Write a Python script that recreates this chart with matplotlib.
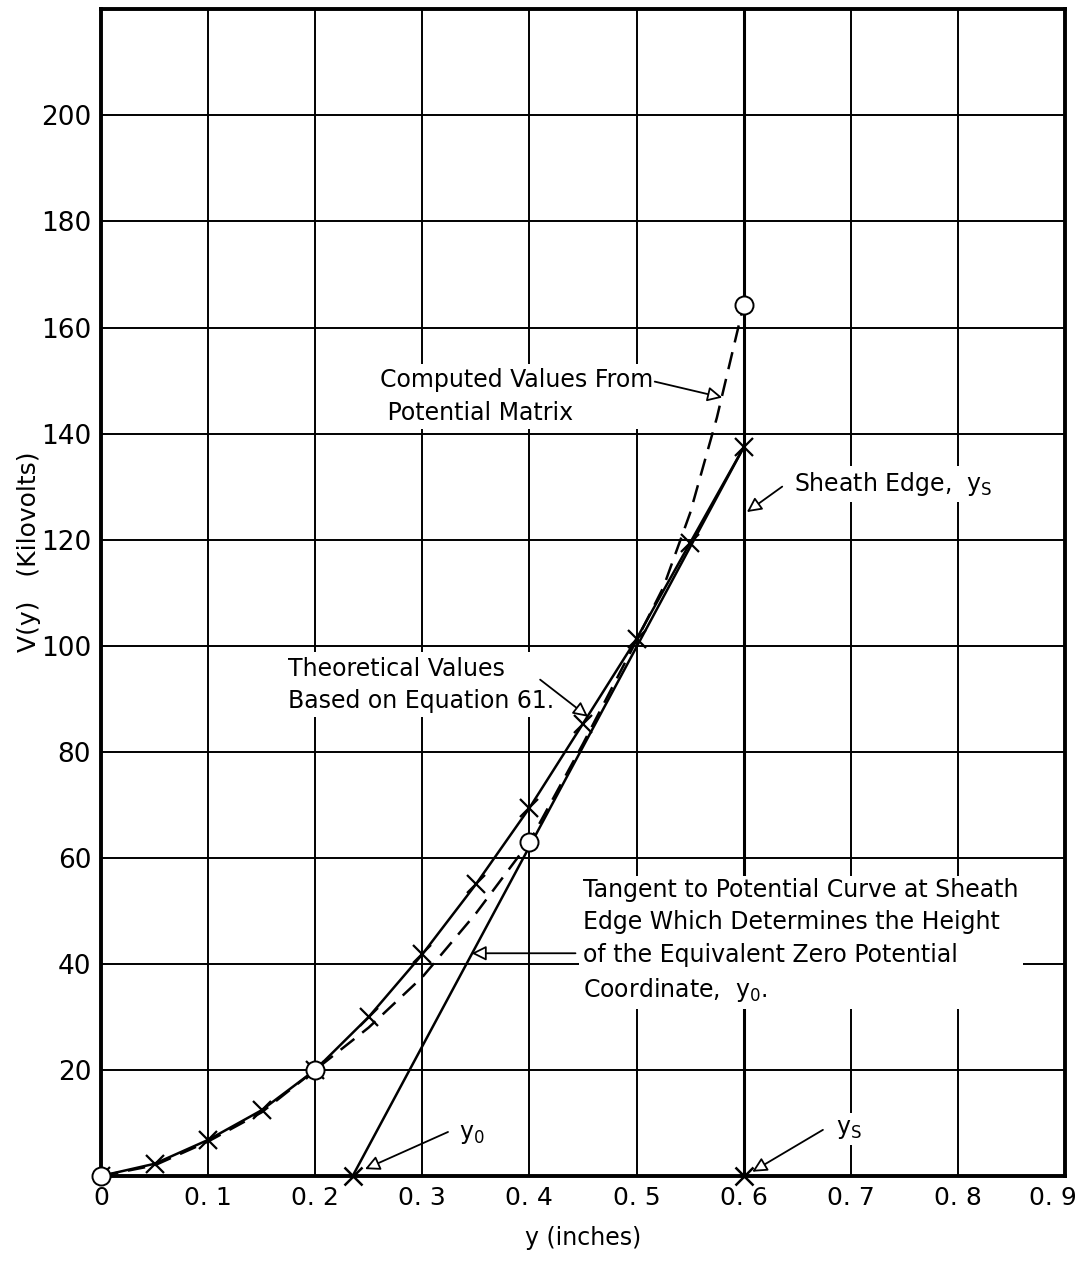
import numpy as np
import matplotlib
matplotlib.use("Agg")
import matplotlib.pyplot as plt
from matplotlib.transforms import ScaledTranslation

plt.rcParams['font.family'] = ['Liberation Sans Narrow', 'DejaVu Sans']

# ── data ─────────────────────────────────────────────────────────────────────
theo_y = [0.0, 0.05, 0.10, 0.15, 0.20, 0.25, 0.30, 0.35, 0.40, 0.45, 0.50, 0.55, 0.60]
theo_v = [0.0, 2.3, 6.8, 12.4, 20.0, 30.0, 41.8, 55.0, 69.4, 85.3, 101.3, 119.4, 137.4]

comp_y = [0.0, 0.05, 0.10, 0.15, 0.20, 0.25, 0.30, 0.35, 0.40, 0.45, 0.50, 0.525, 0.55, 0.575, 0.60]
comp_v = [0.0, 2.0, 6.5, 12.0, 20.0, 28.0, 37.5, 49.5, 63.0, 81.5, 101.0, 111.0, 125.0, 143.0, 164.3]

mark_y = [0.0, 0.2, 0.4, 0.6]          # circles on the computed curve
mark_v = [0.0, 20.0, 63.0, 164.3]

y0 = 0.235                              # equivalent zero-potential coordinate
ys = 0.60                               # sheath edge
vs = 137.4

x_ticks = [0, 0.1, 0.2, 0.3, 0.4, 0.5, 0.6, 0.7, 0.8, 0.9]
x_labels = ["0", "0. 1", "0. 2", "0. 3", "0. 4", "0. 5", "0. 6", "0. 7", "0. 8", "0. 9"]
v_ticks = [20, 40, 60, 80, 100, 120, 140, 160, 180, 200]

# ── figure ───────────────────────────────────────────────────────────────────
fig = plt.figure(figsize=(10.82, 12.63), dpi=100)
ax = fig.add_axes([0.0933, 0.0689, 0.8910, 0.9237])
ax.set_xlim(0, 0.9)
ax.set_ylim(0, 220)

ax.set_xticks(x_ticks)
ax.set_xticklabels(x_labels, fontsize=18)
ax.set_yticks(v_ticks)
ax.set_yticklabels([str(v) for v in v_ticks], fontsize=19)
ax.tick_params(length=0, pad=7)
last = ax.get_xticklabels()[-1]
last.set_ha("right")
last.set_transform(last.get_transform() + ScaledTranslation(0.12, 0, fig.dpi_scale_trans))

ax.grid(True, color="black", lw=1.4, zorder=1)
ax.set_axisbelow(True)
for s in ax.spines.values():
    s.set_linewidth(2.8)
ax.axvline(ys, color="black", lw=2.2, zorder=1)

ax.set_xlabel("y (inches)", fontsize=17)
ax.xaxis.set_label_coords(0.5, -0.043)
ax.set_ylabel("V(y)   (Kilovolts)", fontsize=18)
ax.yaxis.set_label_coords(-0.062, 0.535)

# curves
ax.plot(theo_y, theo_v, color="black", lw=1.8, marker="x", ms=13, mew=1.6, zorder=4)
ax.plot(comp_y, comp_v, color="black", lw=1.8, ls=(0, (7, 4)), zorder=4)
ax.plot(mark_y, mark_v, ls="none", marker="o", ms=13, mfc="white", mec="black",
        mew=1.4, zorder=5, clip_on=False)
ax.plot([y0, ys], [0, vs], color="black", lw=1.8, zorder=4)
ax.plot([y0, ys], [0, 0], ls="none", marker="x", ms=13, mew=1.8, color="black",
        zorder=5, clip_on=False)

# annotations
txt = dict(fontsize=17, linespacing=1.45, va="center", ha="left", zorder=3,
           bbox=dict(fc="white", ec="none", pad=3))
arr = dict(arrowstyle="-|>", color="black", lw=1.3, fc="white",
           mutation_scale=22, shrinkA=0, shrinkB=0)

ax.text(0.2605, 147.0, "Computed Values From\n Potential Matrix", **txt)
ax.annotate("", xy=(0.580, 146.8), xytext=(0.517, 149.8), arrowprops=arr, zorder=6)

ax.text(0.647, 130.5, r"Sheath Edge,  y$_\mathregular{S}$", **txt)
ax.annotate("", xy=(0.603, 125.2), xytext=(0.636, 130.0), arrowprops=arr, zorder=6)

ax.text(0.1746, 92.6, "Theoretical Values\nBased on Equation 61.", **txt)
ax.annotate("", xy=(0.4547, 86.6), xytext=(0.410, 93.6), arrowprops=arr, zorder=6)

ax.text(0.450, 44.3, "Tangent to Potential Curve at Sheath\nEdge Which Determines the Height\n"
        "of the Equivalent Zero Potential\nCoordinate,  y$_\\mathregular{0}$.", **txt)
ax.annotate("", xy=(0.346, 42.0), xytext=(0.443, 42.0), arrowprops=arr, zorder=6)

ax.text(0.334, 7.9, r"y$_\mathregular{0}$", **txt)
ax.annotate("", xy=(0.2465, 1.3), xytext=(0.324, 8.3), arrowprops=arr, zorder=6)

ax.text(0.686, 8.9, r"y$_\mathregular{S}$", **txt)
ax.annotate("", xy=(0.608, 0.8), xytext=(0.674, 8.7), arrowprops=arr, zorder=6)

fig.savefig("out.png", dpi=100)
